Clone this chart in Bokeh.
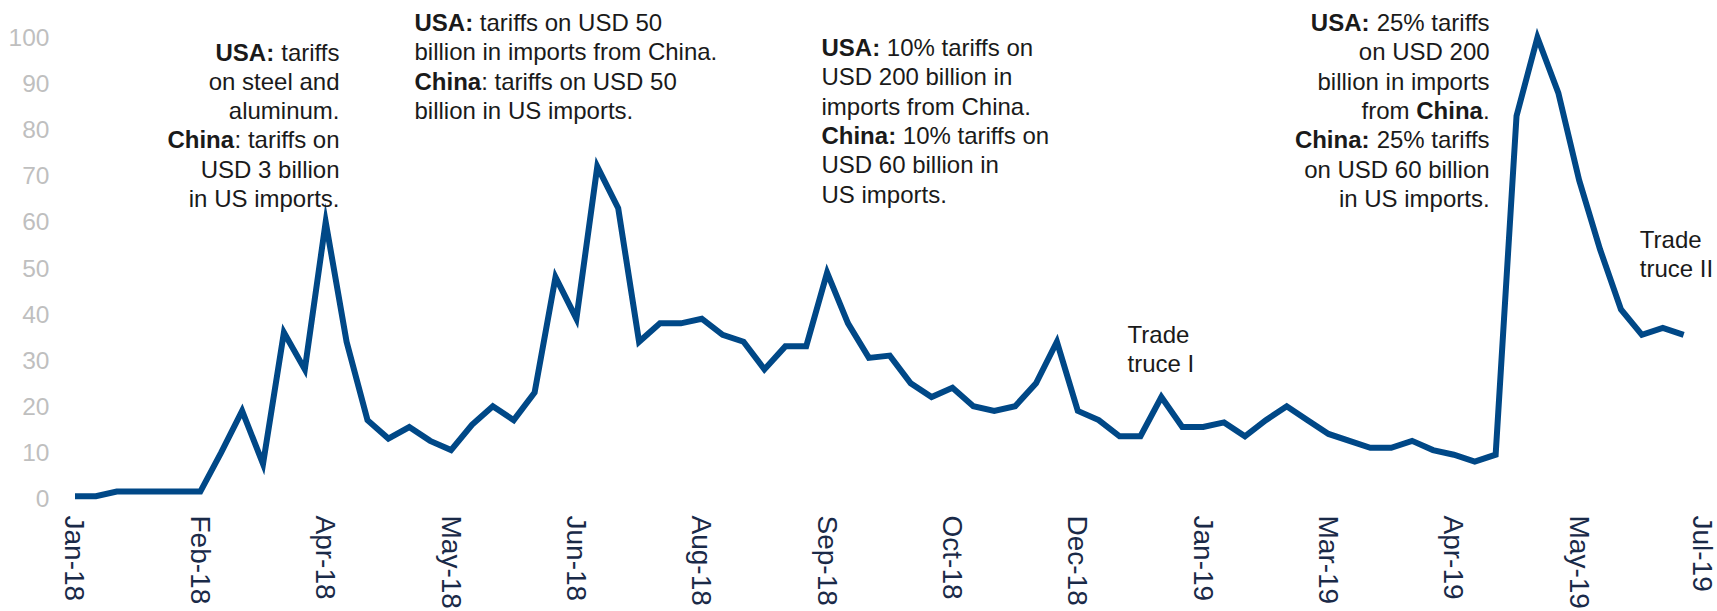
from bokeh.plotting import figure
from bokeh.models import FixedTicker, Label, Range1d
from bokeh.embed import file_html
from bokeh.resources import INLINE

# ---------------- data ----------------
tick_weeks = [0, 6, 12, 18, 24, 30, 36, 42, 48, 54, 60, 66, 72, 78]
tick_labels = ["Jan-18", "Feb-18", "Apr-18", "May-18", "Jun-18", "Aug-18", "Sep-18",
               "Oct-18", "Dec-18", "Jan-19", "Mar-19", "Apr-19", "May-19", "Jul-19"]
values = [0.5, 0.5, 1.5, 1.5, 1.5, 1.5, 1.5,
          10, 19, 7.5, 36, 28, 60,
          34, 17, 13, 15.5, 12.5, 10.5,
          16, 20, 17, 23, 48, 39,
          72, 63, 34, 38, 38, 39,
          35.5, 34, 28, 33, 33, 49,
          38, 30.5, 31, 25, 22, 24,
          20, 19, 20, 25, 34, 19,
          17, 13.5, 13.5, 22, 15.5, 15.5,
          16.5, 13.5, 17, 20, 17, 14,
          12.5, 11, 11, 12.5, 10.5, 9.5,
          8, 9.5, 83, 100, 88, 69,
          54, 41, 35.5, 37, 35.5]
weeks = list(range(len(values)))
y_ticks = [0, 10, 20, 30, 40, 50, 60, 70, 80, 90, 100]

# ---------------- annotations (text) ----------------
notes = [
    dict(x=12.66, y=96.85, align="right", lines=[
        [("USA:", True), (" tariffs", False)],
        [("on steel and", False)],
        [("aluminum.", False)],
        [("China", True), (": tariffs on", False)],
        [("USD 3 billion", False)],
        [("in US imports.", False)],
    ]),
    dict(x=16.25, y=103.25, align="left", lines=[
        [("USA:", True), (" tariffs on USD 50", False)],
        [("billion in imports from China.", False)],
        [("China", True), (": tariffs on USD 50", False)],
        [("billion in US imports.", False)],
    ]),
    dict(x=35.73, y=97.8, align="left", lines=[
        [("USA:", True), (" 10% tariffs on", False)],
        [("USD 200 billion in", False)],
        [("imports from China.", False)],
        [("China:", True), (" 10% tariffs on", False)],
        [("USD 60 billion in", False)],
        [("US imports.", False)],
    ]),
    dict(x=67.71, y=103.25, align="right", lines=[
        [("USA:", True), (" 25% tariffs", False)],
        [("on USD 200", False)],
        [("billion in imports", False)],
        [("from ", False), ("China", True), (".", False)],
        [("China:", True), (" 25% tariffs", False)],
        [("on USD 60 billion", False)],
        [("in US imports.", False)],
    ]),
    dict(x=50.38, y=35.6, align="left", lines=[
        [("Trade", False)],
        [("truce I", False)],
    ]),
    dict(x=74.9, y=56.2, align="left", lines=[
        [("Trade", False)],
        [("truce II", False)],
    ]),
]

# Arial / Liberation Sans advance widths (per 1000 em)
W_REG = {' ': 278, '%': 889, '.': 278, ':': 278, '0': 556, '1': 556, '2': 556, '3': 556,
         '5': 556, '6': 556, 'C': 722, 'D': 722, 'S': 667, 'U': 722, 'T': 611, 'I': 278,
         'a': 556, 'b': 556, 'c': 500, 'd': 556, 'e': 556, 'f': 278, 'h': 556, 'i': 222,
         'l': 222, 'm': 833, 'n': 556, 'o': 556, 'p': 556, 'r': 333, 's': 500, 't': 278,
         'u': 556, 'v': 500}
W_BOLD = {' ': 278, ':': 333, '.': 278, 'A': 722, 'C': 722, 'S': 667, 'U': 722,
          'a': 556, 'h': 611, 'i': 278, 'n': 611}

FONT = "Liberation Sans"
ANN_SIZE = 24
LINE_PX = 29.3
TEXT_COLOR = "#1a1a1a"


def tw(s, bold):
    table = W_BOLD if bold else W_REG
    return sum(table.get(c, 556) for c in s) * ANN_SIZE / 1000.0


# ---------------- geometry ----------------
W, H = 1717, 611
x_start, x_end = -0.694, 78.38
y_start, y_end = -1.52, 108.03
px_per_unit_y = 4.61

p = figure(width=W, height=H, output_backend="svg", toolbar_location=None,
           x_range=Range1d(x_start, x_end), y_range=Range1d(y_start, y_end),
           min_border_left=60, min_border_right=5, min_border_top=0,
           min_border_bottom=106)
p.outline_line_color = None
p.background_fill_color = "white"
p.border_fill_color = "white"
p.xgrid.visible = False
p.ygrid.visible = False

p.line(weeks, values, line_color="#004887", line_width=6, line_join="miter")

# axes
p.xaxis.ticker = FixedTicker(ticks=tick_weeks)
p.xaxis.major_label_overrides = {w: lab for w, lab in zip(tick_weeks, tick_labels)}
p.xaxis.major_label_orientation = "vertical"
p.xaxis.major_label_text_font = FONT
p.xaxis.major_label_text_font_size = "28px"
p.xaxis.major_label_text_color = "#1a2a48"
p.xaxis.major_label_standoff = 10
p.xaxis.axis_line_color = None
p.xaxis.major_tick_line_color = None
p.xaxis.minor_tick_line_color = None
p.xaxis.major_tick_out = 0
p.xaxis.major_tick_in = 0

p.yaxis.ticker = FixedTicker(ticks=y_ticks)
p.yaxis.major_label_text_font = FONT
p.yaxis.major_label_text_font_size = "24.5px"
p.yaxis.major_label_text_color = "#bfbfbf"
p.yaxis.major_label_standoff = 11
p.yaxis.axis_line_color = None
p.yaxis.major_tick_line_color = None
p.yaxis.minor_tick_line_color = None
p.yaxis.major_tick_out = 0
p.yaxis.major_tick_in = 0

# annotations
for note in notes:
    for k, segs in enumerate(note["lines"]):
        y = note["y"] - k * LINE_PX / px_per_unit_y
        if note["align"] == "left":
            cursor = 0.0
            for text, bold in segs:
                lead = len(text) - len(text.lstrip(" "))
                cursor += tw(" " * lead, bold)
                t = text.strip(" ")
                p.add_layout(Label(x=note["x"], y=y, x_offset=cursor, text=t,
                                   text_font=FONT, text_font_size=f"{ANN_SIZE}px",
                                   text_font_style="bold" if bold else "normal",
                                   text_color=TEXT_COLOR, text_align="left",
                                   text_baseline="middle"))
                cursor += tw(t, bold)
                trail = len(text) - len(text.rstrip(" "))
                cursor += tw(" " * trail, bold)
        else:
            cursor = 0.0
            for text, bold in reversed(segs):
                trail = len(text) - len(text.rstrip(" "))
                cursor += tw(" " * trail, bold)
                t = text.strip(" ")
                p.add_layout(Label(x=note["x"], y=y, x_offset=-cursor, text=t,
                                   text_font=FONT, text_font_size=f"{ANN_SIZE}px",
                                   text_font_style="bold" if bold else "normal",
                                   text_color=TEXT_COLOR, text_align="right",
                                   text_baseline="middle"))
                cursor += tw(t, bold)
                lead = len(text) - len(text.lstrip(" "))
                cursor += tw(" " * lead, bold)

open("out.html", "w").write(file_html(p, INLINE))
